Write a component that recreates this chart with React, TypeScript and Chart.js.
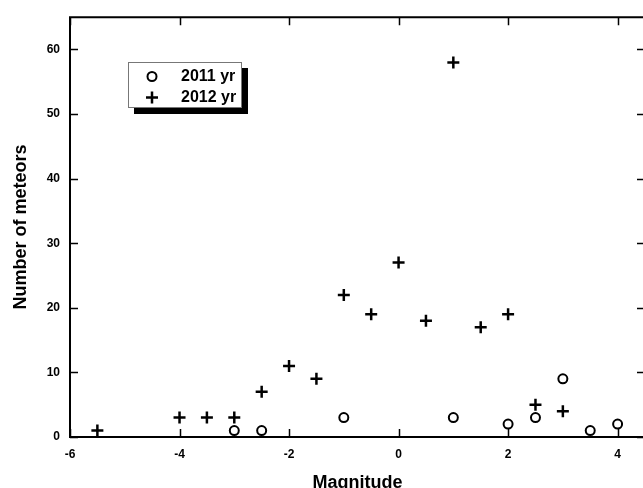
import React, { useEffect, useRef } from 'react';
import { Chart, registerables } from 'chart.js';

Chart.register(...registerables);

const mag2011 = [-3, -2.5, -1, 1, 2, 2.5, 3, 3.5, 4];
const count2011 = [1, 1, 3, 3, 2, 3, 9, 1, 2];
const mag2012 = [-5.5, -4, -3.5, -3, -2.5, -2, -1.5, -1, -0.5, 0, 0.5, 1, 1.5, 2, 2.5, 3];
const count2012 = [1, 3, 3, 3, 7, 11, 9, 22, 19, 27, 18, 58, 17, 19, 5, 4];
const xTicks = [-6, -4, -2, 0, 2, 4];
const yTicks = [0, 10, 20, 30, 40, 50, 60];
const seriesLabels = ['2011 yr', '2012 yr'];
const xTitle = 'Magnitude';
const yTitle = 'Number of meteors';

const FONT = "'Liberation Sans', Arial, Helvetica, sans-serif";
const CW = 660;
const CH = 500;

const framePlugin = {
  id: 'frame',
  afterDraw(chart: any) {
    const { ctx, chartArea, scales } = chart;
    const { left, right, top, bottom } = chartArea;
    ctx.save();
    ctx.strokeStyle = '#000';
    ctx.lineWidth = 2;
    ctx.beginPath();
    ctx.moveTo(left, top);
    ctx.lineTo(right, top);
    ctx.lineTo(right, bottom);
    ctx.lineTo(left, bottom);
    ctx.closePath();
    ctx.stroke();
    const tl = 8;
    ctx.lineWidth = 1.5;
    ctx.beginPath();
    for (const v of xTicks) {
      const px = Math.round(scales.x.getPixelForValue(v)) + 0.5;
      ctx.moveTo(px, bottom);
      ctx.lineTo(px, bottom - tl);
      ctx.moveTo(px, top);
      ctx.lineTo(px, top + tl);
    }
    for (const v of yTicks) {
      const py = Math.round(scales.y.getPixelForValue(v)) + 0.5;
      ctx.moveTo(left, py);
      ctx.lineTo(left + tl, py);
      ctx.moveTo(right, py);
      ctx.lineTo(right - tl, py);
    }
    ctx.stroke();

    // legend
    const bx = 128, by = 62, bw = 114, bh = 46, sh = 6;
    ctx.fillStyle = '#000';
    ctx.fillRect(bx + sh, by + sh, bw, bh);
    ctx.fillStyle = '#fff';
    ctx.fillRect(bx, by, bw, bh);
    ctx.strokeStyle = '#777';
    ctx.lineWidth = 1;
    ctx.strokeRect(bx + 0.5, by + 0.5, bw - 1, bh - 1);

    const ds = chart.data.datasets;
    const rows = [76.5, 97.5];
    ds.forEach((d: any, i: number) => {
      const cx = 152;
      const cy = rows[i];
      ctx.strokeStyle = '#000';
      ctx.lineWidth = d.borderWidth;
      ctx.beginPath();
      if (d.pointStyle === 'circle') {
        ctx.arc(cx, cy, d.pointRadius, 0, Math.PI * 2);
      } else {
        ctx.moveTo(cx - d.pointRadius, cy);
        ctx.lineTo(cx + d.pointRadius, cy);
        ctx.moveTo(cx, cy - d.pointRadius);
        ctx.lineTo(cx, cy + d.pointRadius);
      }
      ctx.stroke();
      ctx.fillStyle = '#000';
      ctx.font = `bold 16px ${FONT}`;
      ctx.textAlign = 'left';
      ctx.textBaseline = 'middle';
      ctx.fillText(d.label, 181, cy);
    });
    ctx.restore();
  },
};

export default function App() {
  const ref = useRef<HTMLCanvasElement>(null);

  useEffect(() => {
    document.body.style.margin = '0';
    const canvas = ref.current;
    if (!canvas) return;
    const chart = new Chart(canvas, {
      type: 'scatter',
      data: {
        datasets: [
          {
            label: seriesLabels[0],
            data: mag2011.map((x, i) => ({ x, y: count2011[i] })),
            pointStyle: 'circle',
            pointRadius: 4.5,
            borderWidth: 2,
            borderColor: '#000',
            backgroundColor: 'rgba(0,0,0,0)',
          },
          {
            label: seriesLabels[1],
            data: mag2012.map((x, i) => ({ x, y: count2012[i] })),
            pointStyle: 'cross',
            pointRadius: 6,
            borderWidth: 2.5,
            borderColor: '#000',
            backgroundColor: '#000',
          },
        ],
      } as any,
      options: {
        responsive: false,
        animation: false,
        devicePixelRatio: 1,
        layout: { padding: { top: 12, right: CW - 645, left: 0, bottom: 0 } },
        plugins: { legend: { display: false }, tooltip: { enabled: false } },
        scales: {
          x: {
            type: 'linear',
            min: -6,
            max: 4.5,
            afterBuildTicks: (s: any) => {
              s.ticks = xTicks.map((v) => ({ value: v }));
            },
            afterFit: (s: any) => {
              s.height = CH - 437;
            },
            grid: { display: false, drawTicks: false },
            border: { display: false },
            ticks: {
              color: '#000',
              padding: 10,
              maxRotation: 0,
              font: { family: FONT, size: 12, weight: 'bold' },
            },
            title: {
              display: true,
              text: xTitle,
              color: '#000',
              padding: { top: 0, bottom: 6 },
              font: { family: FONT, size: 18, weight: 'bold' },
            },
          },
          y: {
            type: 'linear',
            min: 0,
            max: 65,
            afterBuildTicks: (s: any) => {
              s.ticks = yTicks.map((v) => ({ value: v }));
            },
            afterFit: (s: any) => {
              s.width = 70;
            },
            grid: { display: false, drawTicks: false },
            border: { display: false },
            ticks: {
              color: '#000',
              padding: 10,
              font: { family: FONT, size: 12, weight: 'bold' },
            },
            title: {
              display: true,
              text: yTitle,
              color: '#000',
              padding: { top: 10, bottom: 0 },
              font: { family: FONT, size: 18, weight: 'bold' },
            },
          },
        },
      } as any,
      plugins: [framePlugin],
    });
    return () => chart.destroy();
  }, []);

  return (
    <div
      style={{
        position: 'absolute',
        left: 0,
        top: 0,
        width: 643,
        height: 488,
        overflow: 'hidden',
        background: '#fff',
      }}
    >
      <canvas ref={ref} width={CW} height={CH} style={{ display: 'block' }} />
    </div>
  );
}
